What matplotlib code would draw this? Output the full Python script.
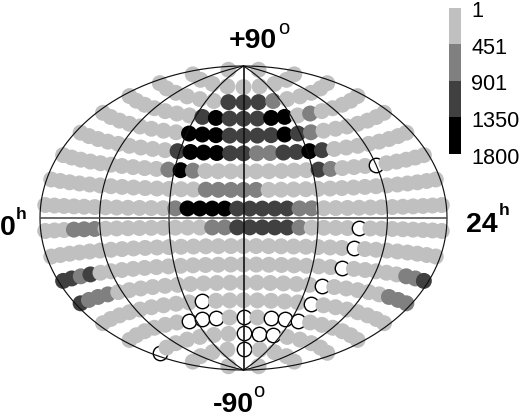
import numpy as np
import matplotlib
matplotlib.use("Agg")
import matplotlib.pyplot as plt
from matplotlib.colors import ListedColormap

plt.rcParams['font.family'] = ['Liberation Sans', 'DejaVu Sans']

W, H = 522, 413

# Sky grid: declination of each row, north to south
row_dec = [85, 75, 65, 55, 45, 35, 25, 15, 5,
           -5, -15, -25, -35, -45, -55, -65, -75, -85]
# Bins in RA per row, and class per bin: '0' = open (no counts), 1-4 = grey level, '.' = absent
row_bins = [3, 9, 15, 21, 25, 29, 33, 35, 36,
            36, 35, 33, 29, 25, 21, 15, 9, 3]
row_levels = [
    "1.1",
    "111111111",
    "111111333211111",
    "111111134333441211111",
    "1111111144433334321111111",
    "11111111134443322334311111111",
    "111111111124211111111132111011111",
    "11111111111111222221111111111111111",
    "111111111111244443333322111111111111",
    "111222111111111223333321111011111111",
    "11111111111111111111111111011111111",
    "332311111111111111111111011111223",
    "32221111111111111111011111222",
    "1111111110111111101111111",
    "111111000101000111111",
    "011111100011111",
    "111101111",
    "1.1",
]
level_colors = {'1': '#c0c0c0', '2': '#808080', '3': '#404040', '4': '#000000'}

meridians = [-180, -120, -60, 60, 120, 180]
cbar_ticks = ['1', '451', '901', '1350', '1800']
cbar_colors = ['#c0c0c0', '#808080', '#404040', '#000000']


def hammer(lon_deg, lat_deg):
    lon = np.radians(lon_deg)
    lat = np.radians(lat_deg)
    d = np.sqrt(1 + np.cos(lat) * np.cos(lon / 2))
    return np.cos(lat) * np.sin(lon / 2) / d, np.sin(lat) / d


fig = plt.figure(figsize=(W / 100, H / 100), dpi=100)
ax = fig.add_axes([40 / W, (H - 370) / H, 407 / W, 304 / H])
ax.set_xlim(-1, 1)
ax.set_ylim(-1, 1)
ax.axis('off')

z = 2
for dec, n, levels in zip(row_dec, row_bins, row_levels):
    for k, c in enumerate(levels):
        if c == '.':
            continue
        x, y = hammer(-180 + (k + 0.5) * 360 / n, dec)
        if c == '0':
            ax.scatter(x, y, s=108, facecolor='white', edgecolor='black',
                       linewidth=1.0, zorder=z, clip_on=False)
        else:
            ax.scatter(x, y, s=132, facecolor=level_colors[c], edgecolor='none',
                       zorder=z, clip_on=False)
        z += 0.001

lat_line = np.linspace(-90, 90, 361)
for m in meridians:
    x, y = hammer(m, lat_line)
    ax.plot(x, y, color='#111111', lw=0.85, zorder=10, clip_on=False)
ax.plot([0, 0], [-1, 1], color='#111111', lw=1.2, zorder=10)
ax.plot([-1, 1], [0, 0], color='#444444', lw=1.1, zorder=10)

# Colour bar
cax = fig.add_axes([449 / W, (H - 154) / H, 12 / W, 146 / H])
cax.imshow(np.arange(4).reshape(-1, 1), cmap=ListedColormap(cbar_colors),
           aspect='auto', interpolation='nearest')
cax.axis('off')
for lab, yp in zip(cbar_ticks, [17, 54, 90.5, 127, 163.5]):
    fig.text(471.5 / W, 1 - yp / H, lab, fontsize=15.6, va='baseline', ha='left')

# Axis labels
bold = dict(fontsize=20.5, fontweight='bold', va='baseline', ha='left')
small = dict(fontsize=14.5, va='baseline', ha='left')
smallb = dict(fontsize=12.5, fontweight='bold', va='baseline', ha='left')
fig.text(229 / W, 1 - 48.5 / H, '+90', **bold)
fig.text(278.5 / W, 1 - 34 / H, 'o', **small)
fig.text(212.5 / W, 1 - 411.5 / H, '-90', **bold)
fig.text(253 / W, 1 - 397 / H, 'o', **small)
fig.text(0 / W, 1 - 234.5 / H, '0', **bold)
fig.text(15.5 / W, 1 - 219 / H, 'h', **smallb)
fig.text(466 / W, 1 - 231.5 / H, '24', **bold)
fig.text(498.5 / W, 1 - 215 / H, 'h', **smallb)

fig.savefig('out.png', dpi=100)
